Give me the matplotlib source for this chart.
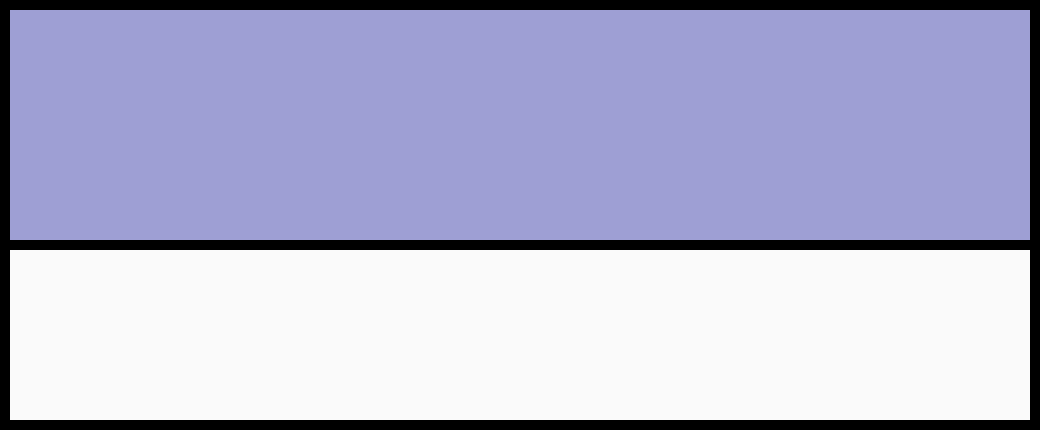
import matplotlib
matplotlib.use("Agg")
import matplotlib.pyplot as plt

# Data
categories = ["lower", "upper"]
values = [1.0, 1.0]
colors = ["#fafafa", "#9e9fd4"]

# Layout (pixels within plotting area)
W, H = 1040, 430
fig = plt.figure(figsize=(W / 100, H / 100), dpi=100, facecolor="black")
ax = fig.add_axes([10 / W, 10 / H, 1020 / W, 410 / H])
ax.set_facecolor("black")

centers = [85, 295]
heights = [170, 230]
ax.barh(centers, values, height=heights, color=colors, edgecolor="none")
ax.set_xlim(0, 1)
ax.set_ylim(0, 410)
ax.axis("off")

fig.savefig("out.png", dpi=100, facecolor="black")
